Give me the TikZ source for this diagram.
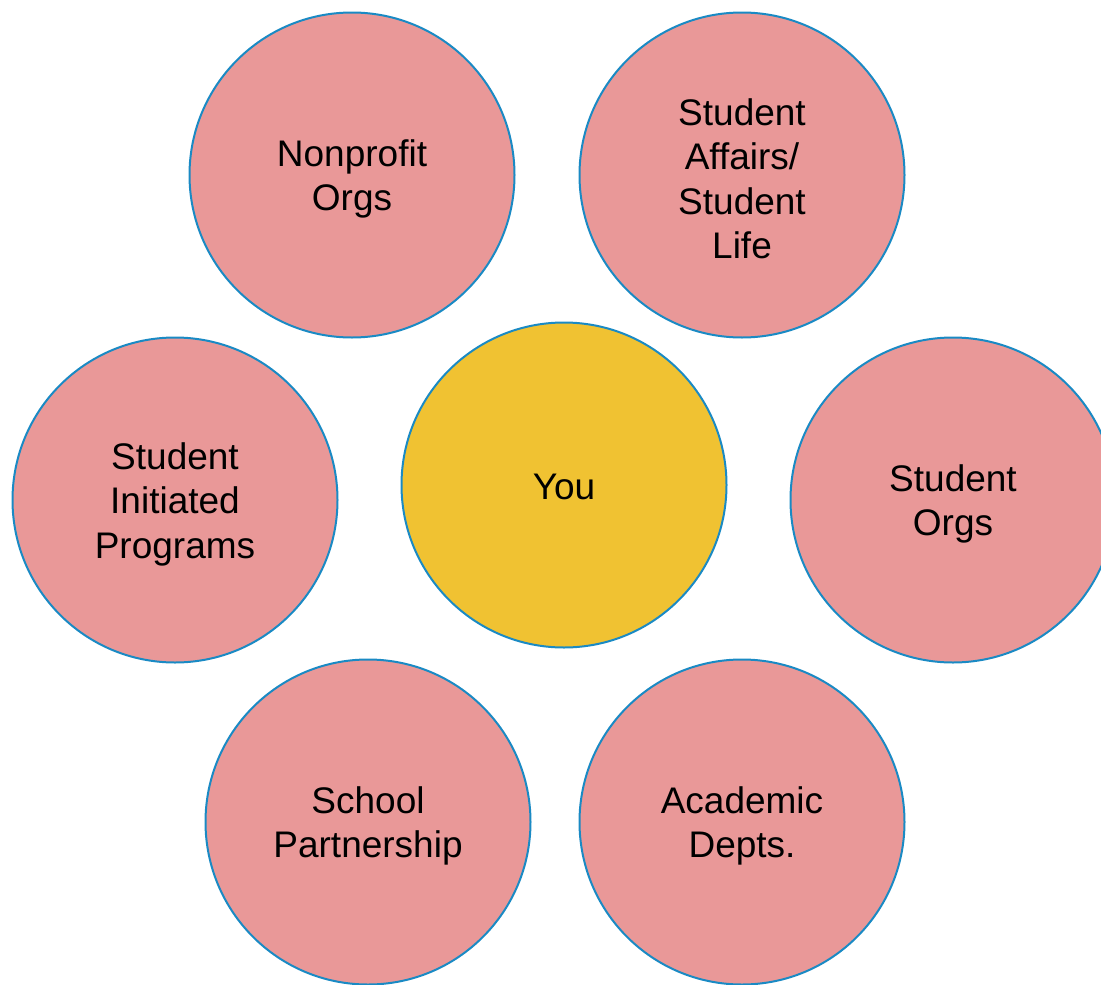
\documentclass[tikz,border=0pt]{standalone}
\usepackage{fontspec}
\setmainfont{Liberation Sans}
\definecolor{ringblue}{HTML}{1A8AC4}
\definecolor{pinkfill}{HTML}{E99898}
\definecolor{youfill}{HTML}{F0C232}
\begin{document}
\begin{tikzpicture}[x=1pt,y=-1pt,
  bubble/.style={circle,draw=ringblue,line width=2pt,minimum size=325pt,inner sep=0pt,fill=pinkfill},
  center bubble/.style={bubble,fill=youfill},
  bubbletext/.style={align=center,inner sep=0pt,yshift=-4pt,font=\fontsize{37}{44.5}\selectfont}]
\useasboundingbox (0,0) rectangle (1101,985);
\node[bubble] (np) at (352,175) {};
\node[bubble] (sa) at (742,175) {};
\node[bubble] (si) at (175,500) {};
\node[center bubble] (you) at (564,485) {};
\node[bubble] (so) at (953,500) {};
\node[bubble] (sp) at (368,822) {};
\node[bubble] (ad) at (742,822) {};
\node[bubbletext] (npt) at (np.center) {Nonprofit\\Orgs};
\node[bubbletext] (sat) at (sa.center) {Student\\Affairs/\\Student\\Life};
\node[bubbletext] (sit) at (si.center) {Student\\Initiated\\Programs};
\node[bubbletext,yshift=2pt] (yout) at (you.center) {You};
\node[bubbletext] (sot) at (so.center) {Student\\Orgs};
\node[bubbletext] (spt) at (sp.center) {School\\Partnership};
\node[bubbletext] (adt) at (ad.center) {Academic\\Depts.};
\end{tikzpicture}
\end{document}
